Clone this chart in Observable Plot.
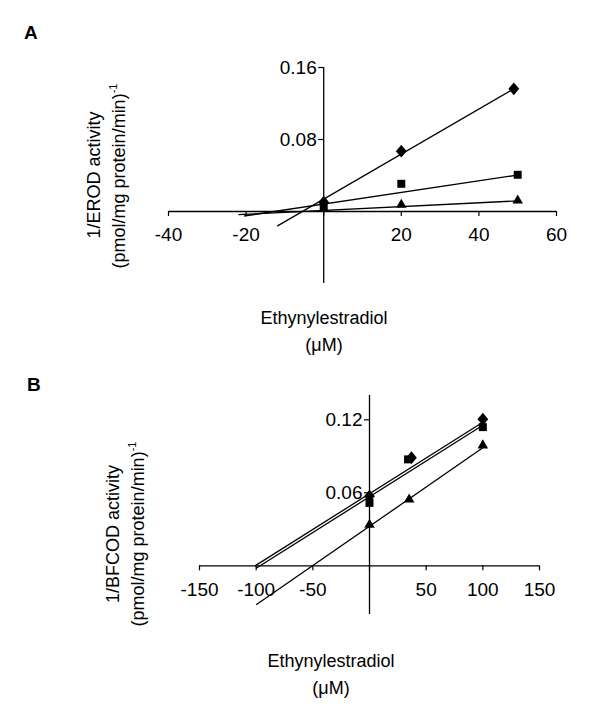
<!DOCTYPE html>
<html><head><meta charset="utf-8">
<script src="https://cdn.jsdelivr.net/npm/d3@7"></script>
<script src="https://cdn.jsdelivr.net/npm/@observablehq/plot@0.6"></script>
<style>
html,body{margin:0;padding:0;background:#fff;}
#wrap{position:relative;width:600px;height:716px;overflow:hidden;font-family:"Liberation Sans",Arial,sans-serif;}
.panel{position:absolute;left:0;}
#overlay{position:absolute;left:0;top:0;pointer-events:none;}
</style></head>
<body><div id="wrap"></div>
<script>
// ---------- Panel A (EROD) ----------
const aXTicks = [-40, -20, 0, 20, 40, 60];
const aYTicks = [0.08, 0.16];
const aDiamondX = [0, 20, 49];
const aDiamondY = [0.0103, 0.067, 0.1363];
const aSquareX = [0, 20, 50];
const aSquareY = [0.0067, 0.0308, 0.0408];
const aTriangleX = [0, 20, 50];
const aTriangleY = [0.003, 0.0074, 0.0122];
const aFitX1 = [-12, -20.5, -22];
const aFitY1 = [-0.0163, -0.005, -0.0035];
const aFitX2 = [49, 50, 50];
const aFitY2 = [0.1363, 0.0405, 0.0118];

// ---------- Panel B (BFCOD) ----------
const bXTicks = [-150, -100, -50, 0, 50, 100, 150];
const bYTicks = [0.06, 0.12];
const bDiamondX = [0, 37, 100];
const bDiamondY = [0.0572, 0.0889, 0.1205];
const bSquareX = [0, 34, 100];
const bSquareY = [0.0517, 0.0875, 0.114];
const bTriangleX = [0, 35, 100];
const bTriangleY = [0.0338, 0.0545, 0.099];
const bFitX1 = [-101, -100, -100];
const bFitY1 = [0.0, -0.002, -0.032];
const bFitX2 = [100, 100, 100];
const bFitY2 = [0.118, 0.1155, 0.097];

const diamondSymbol = {
  draw(ctx, size) {
    const h = Math.sqrt(size) * 0.8, w = h * 0.85;
    ctx.moveTo(0, -h); ctx.lineTo(w, 0); ctx.lineTo(0, h); ctx.lineTo(-w, 0); ctx.closePath();
  }
};

function pts(xs, ys) { return xs.map((x, i) => ({x, y: ys[i]})); }

function makePanel(o) {
  const fits = o.fitX1.map((d, i) => ({x1: d, y1: o.fitY1[i], x2: o.fitX2[i], y2: o.fitY2[i]}));
  return Plot.plot({
    width: 600, height: o.height,
    marginLeft: o.ml, marginRight: o.mr, marginTop: o.mt, marginBottom: o.mb,
    style: {fontFamily: '"Liberation Sans", Arial, sans-serif', fontSize: "19px", background: "transparent", color: "black"},
    x: {domain: o.xDomain, axis: null},
    y: {domain: o.yDomain, axis: null},
    marks: [
      Plot.ruleY([0], {stroke: "black", strokeWidth: 1.3}),
      Plot.ruleX([0], {stroke: "black", strokeWidth: 1.3}),
      Plot.ruleX(o.xTicks, {x: d => d, y1: () => 0, y2: () => 0, insetBottom: -5, stroke: "black", strokeWidth: 1.2}),
      Plot.ruleY(o.yTicks, {y: d => d, x1: () => 0, x2: () => 0, insetLeft: -5, stroke: "black", strokeWidth: 1.2}),
      Plot.text(o.xTicks.filter(d => d !== 0), {x: d => d, y: () => 0, dy: o.xLabelDy, text: d => String(d), fontSize: 19, fill: "black"}),
      Plot.text(o.yTicks, {x: () => 0, y: d => d, dx: -7, textAnchor: "end", text: d => String(d), fontSize: 19, fill: "black"}),
      Plot.link(fits, {x1: "x1", y1: "y1", x2: "x2", y2: "y2", stroke: "black", strokeWidth: 1.3}),
      Plot.dot(pts(o.triX, o.triY), {x: "x", y: "y", symbol: "triangle", r: 3.9, fill: "black", stroke: "none"}),
      Plot.dot(pts(o.sqX, o.sqY), {x: "x", y: "y", symbol: "square", r: 4.5, fill: "black", stroke: "none"}),
      Plot.dot(pts(o.diaX, o.diaY), {x: "x", y: "y", symbol: diamondSymbol, r: 4.5, fill: "black", stroke: "none"})
    ]
  });
}

const wrap = document.getElementById("wrap");

const plotA = makePanel({
  height: 358, ml: 168, mr: 44, mt: 67, mb: 75,
  xDomain: [-40, 60], yDomain: [-0.08, 0.16],
  xTicks: aXTicks, yTicks: aYTicks, xLabelDy: 23,
  diaX: aDiamondX, diaY: aDiamondY, sqX: aSquareX, sqY: aSquareY, triX: aTriangleX, triY: aTriangleY,
  fitX1: aFitX1, fitY1: aFitY1, fitX2: aFitX2, fitY2: aFitY2
});
const divA = document.createElement("div");
divA.className = "panel"; divA.style.top = "0px";
divA.appendChild(plotA); wrap.appendChild(divA);

const plotB = makePanel({
  height: 358, ml: 199, mr: 61, mt: 37, mb: 102,
  xDomain: [-150, 150], yDomain: [-0.04, 0.14],
  xTicks: bXTicks, yTicks: bYTicks, xLabelDy: 24,
  diaX: bDiamondX, diaY: bDiamondY, sqX: bSquareX, sqY: bSquareY, triX: bTriangleX, triY: bTriangleY,
  fitX1: bFitX1, fitY1: bFitY1, fitX2: bFitX2, fitY2: bFitY2
});
const divB = document.createElement("div");
divB.className = "panel"; divB.style.top = "358px";
divB.appendChild(plotB); wrap.appendChild(divB);

// ---------- Text overlay ----------
const NS = "http://www.w3.org/2000/svg";
const ov = document.createElementNS(NS, "svg");
ov.setAttribute("id", "overlay");
ov.setAttribute("width", 600); ov.setAttribute("height", 716);
ov.setAttribute("font-family", '"Liberation Sans", Arial, sans-serif');
wrap.appendChild(ov);

function addText(str, x, y, opts = {}) {
  const t = document.createElementNS(NS, "text");
  t.setAttribute("x", 0); t.setAttribute("y", 0);
  t.setAttribute("transform", `translate(${x},${y})` + (opts.rotate ? ` rotate(${opts.rotate})` : ""));
  t.setAttribute("font-size", opts.size || 18);
  t.setAttribute("text-anchor", opts.anchor || "middle");
  if (opts.bold) t.setAttribute("font-weight", "bold");
  t.setAttribute("fill", "black");
  t.appendChild(document.createTextNode(str));
  if (opts.sup) {
    const s = document.createElementNS(NS, "tspan");
    s.setAttribute("font-size", 11);
    s.setAttribute("dy", -8);
    s.textContent = opts.sup;
    t.appendChild(s);
  }
  ov.appendChild(t);
  return t;
}

addText("A", 24, 39, {bold: true, anchor: "start", size: 19});
addText("B", 27, 391, {bold: true, anchor: "start", size: 19});

addText("1/EROD activity", 100, 175, {rotate: -90});
addText("(pmol/mg protein/min)", 125, 176, {rotate: -90, sup: "-1"});
addText("Ethynylestradiol", 324, 324);
addText("(\u03BCM)", 324, 351);

addText("1/BFCOD activity", 119, 534, {rotate: -90});
addText("(pmol/mg protein/min)", 144, 534, {rotate: -90, sup: "-1"});
addText("Ethynylestradiol", 331, 667);
addText("(\u03BCM)", 331, 694);
</script>
</body></html>
